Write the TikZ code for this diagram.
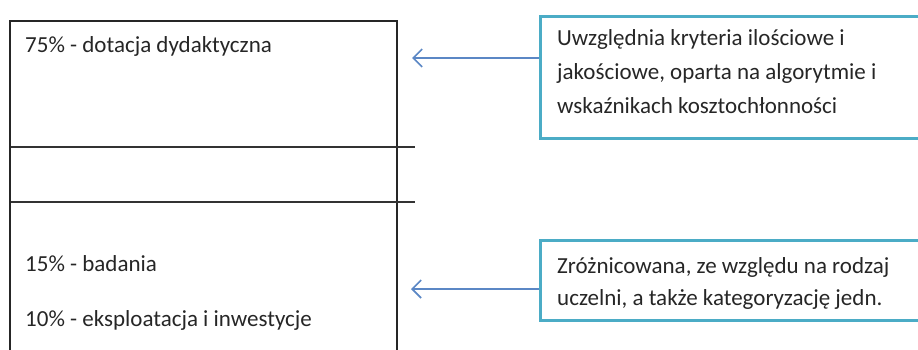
\documentclass[tikz,border=0pt]{standalone}
\usepackage{fontspec}
\setmainfont{Carlito}
\usetikzlibrary{arrows.meta}
\definecolor{boxteal}{HTML}{4BACC6}
\definecolor{arrblue}{HTML}{5B87C5}
\definecolor{txt}{HTML}{262626}
\begin{document}
\begin{tikzpicture}[x=1pt,y=-1pt,
  lbl/.style={anchor=base west,inner sep=0pt,text=txt,font=\fontsize{23}{34}\selectfont},
  note/.style={draw=boxteal,line width=3pt,anchor=north west,inner sep=0pt,minimum width=400pt},
  conn/.style={draw=arrblue,line width=1.6pt,-{Straight Barb[length=9pt,width=18pt,line width=1.6pt]}}]
\useasboundingbox (0,0) rectangle (918,349);
\clip (0,0) rectangle (918,349);
% left box
\draw[line width=1.5pt,draw=black!85] (10,360) -- (10,21) -- (397,21) -- (397,360);
\draw[line width=1.5pt,draw=black!80] (11,147) -- (415,147);
\draw[line width=1.5pt,draw=black!80] (11,202) -- (415,202);
\node[lbl] (t75) at (25,52) {75\% - dotacja dydaktyczna};
\node[lbl] (t15) at (25,271) {15\% - badania};
\node[lbl] (t10) at (25,326) {10\% - eksploatacja i inwestycje};
% right boxes
\node[note,minimum height=122pt] (n1) at (539,15) {};
\node[lbl] (n1a) at (557,45) {Uwzględnia kryteria ilościowe i};
\node[lbl] (n1b) at (557,79) {jakościowe, oparta na algorytmie i};
\node[lbl] (n1c) at (557,113) {wskaźnikach kosztochłonności};
\node[note,minimum height=80pt] (n2) at (539,239) {};
\node[lbl] (n2a) at (557,273) {Zróżnicowana, ze względu na rodzaj};
\node[lbl] (n2b) at (557,305) {uczelni, a także kategoryzację jedn.};
\coordinate (a1) at (412,58);
\coordinate (a2) at (411,289);
\draw[conn] (n1.west |- a1) -- (a1);
\draw[conn] (n2.west |- a2) -- (a2);
\end{tikzpicture}
\end{document}
